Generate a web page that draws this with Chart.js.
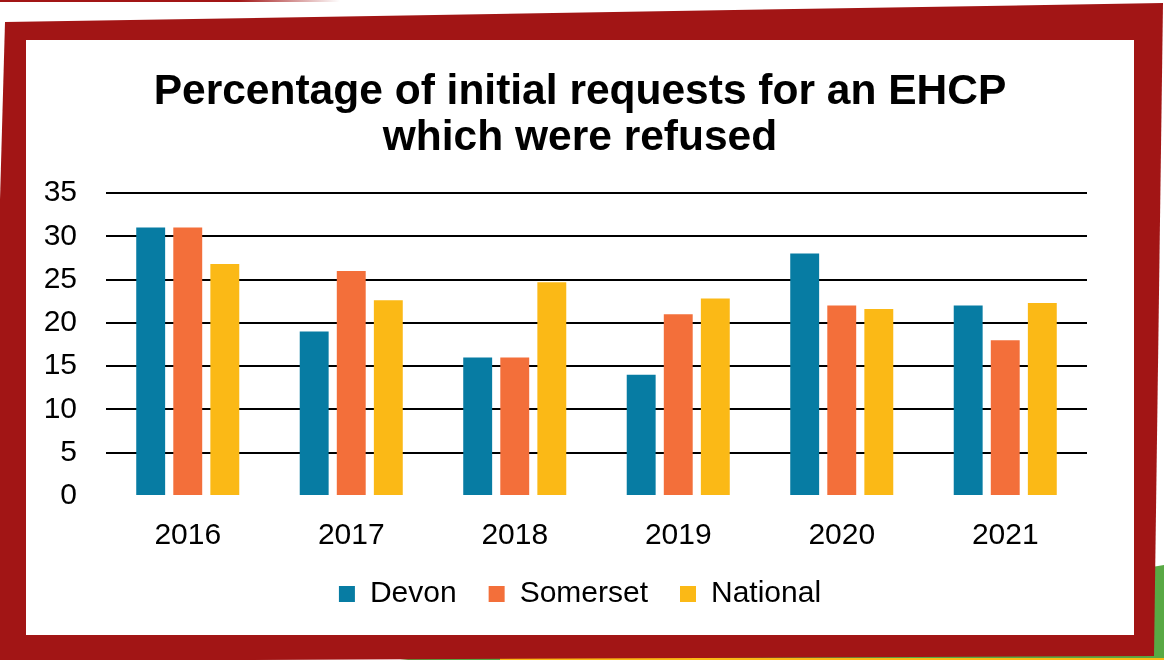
<!DOCTYPE html>
<html>
<head>
<meta charset="utf-8">
<script src="https://cdn.jsdelivr.net/npm/chart.js@4.4.1/dist/chart.umd.min.js"></script>
<style>
  body { margin: 0; width: 1164px; height: 660px; overflow: hidden; background: #fff; position: relative; }
  .strip { position: absolute; left: 0; top: 0; width: 340px; height: 2px;
           background: linear-gradient(to right, #a21515 0%, #a21515 70%, rgba(162,21,21,0) 100%); }
  .green { position: absolute; inset: 0; background: #58a944;
           clip-path: polygon(1152px 567px, 1164px 565px, 1164px 660px, 400px 660px); }
  .yellow { position: absolute; left: 500px; top: 658px; width: 664px; height: 2px; background: #fbb916; }
  .frame { position: absolute; inset: 0; background: #a21515;
           clip-path: polygon(5px 22px, 1163px 3px, 1154px 656px, 0px 661px, 0px 200px); }
  .panel { position: absolute; left: 26px; top: 40px; width: 1108px; height: 595px; background: #fff; }
</style>
</head>
<body>
<div class="strip"></div>
<div class="green"></div>
<div class="yellow"></div>
<div class="frame"></div>
<div class="panel"><canvas id="refusedChart"></canvas></div>

<script>
const years = ["2016", "2017", "2018", "2019", "2020", "2021"];
const devon = [31, 19, 16, 14, 28, 22];
const somerset = [31, 26, 16, 21, 22, 18];
const national = [26.8, 22.6, 24.7, 22.8, 21.6, 22.3];

const FONT = "'Liberation Sans', Arial, sans-serif";
Chart.defaults.font.family = FONT;
Chart.defaults.color = "#000";

new Chart(document.getElementById("refusedChart"), {
  type: "bar",
  data: {
    labels: years,
    datasets: [
      { label: "Devon", data: devon, backgroundColor: "#077ca3" },
      { label: "Somerset", data: somerset, backgroundColor: "#f36f3a" },
      { label: "National", data: national, backgroundColor: "#fbb916" }
    ]
  },
  options: {
    responsive: true,
    maintainAspectRatio: false,
    animation: false,
    categoryPercentage: 0.68,
    barPercentage: 0.78,
    layout: { padding: { left: 17, right: 17, top: 0, bottom: 16 } },
    plugins: {
      title: {
        display: true,
        text: ["Percentage of initial requests for an EHCP", "which were refused"],
        font: { size: 42.5, weight: "bold", lineHeight: 1.07 },
        padding: { top: 30, bottom: 32 }
      },
      legend: {
        position: "bottom",
        labels: {
          boxWidth: 16,
          boxHeight: 16,
          padding: 32,
          font: { size: 30 }
        }
      },
      tooltip: { enabled: false }
    },
    scales: {
      x: {
        grid: { display: false },
        border: { display: false },
        ticks: { font: { size: 30 }, padding: 14 },
        // let the year labels sit lower, over the legend's top padding
        afterFit: scale => { scale.height -= 21; }
      },
      y: {
        min: 0,
        max: 35,
        border: { display: false },
        grid: {
          drawTicks: false,
          lineWidth: 2,
          color: ctx => ctx.tick && ctx.tick.value === 0 ? "rgba(0,0,0,0)" : "#000"
        },
        ticks: { stepSize: 5, font: { size: 30 }, padding: 29 },
        afterFit: scale => { scale.width = 63; }
      },
      // empty right axis, only keeps the plot clear of the right edge
      yRight: {
        position: "right",
        grid: { display: false },
        border: { display: false },
        ticks: { display: false },
        afterFit: scale => { scale.width = 30; }
      }
    }
  }
});
</script>
</body>
</html>
